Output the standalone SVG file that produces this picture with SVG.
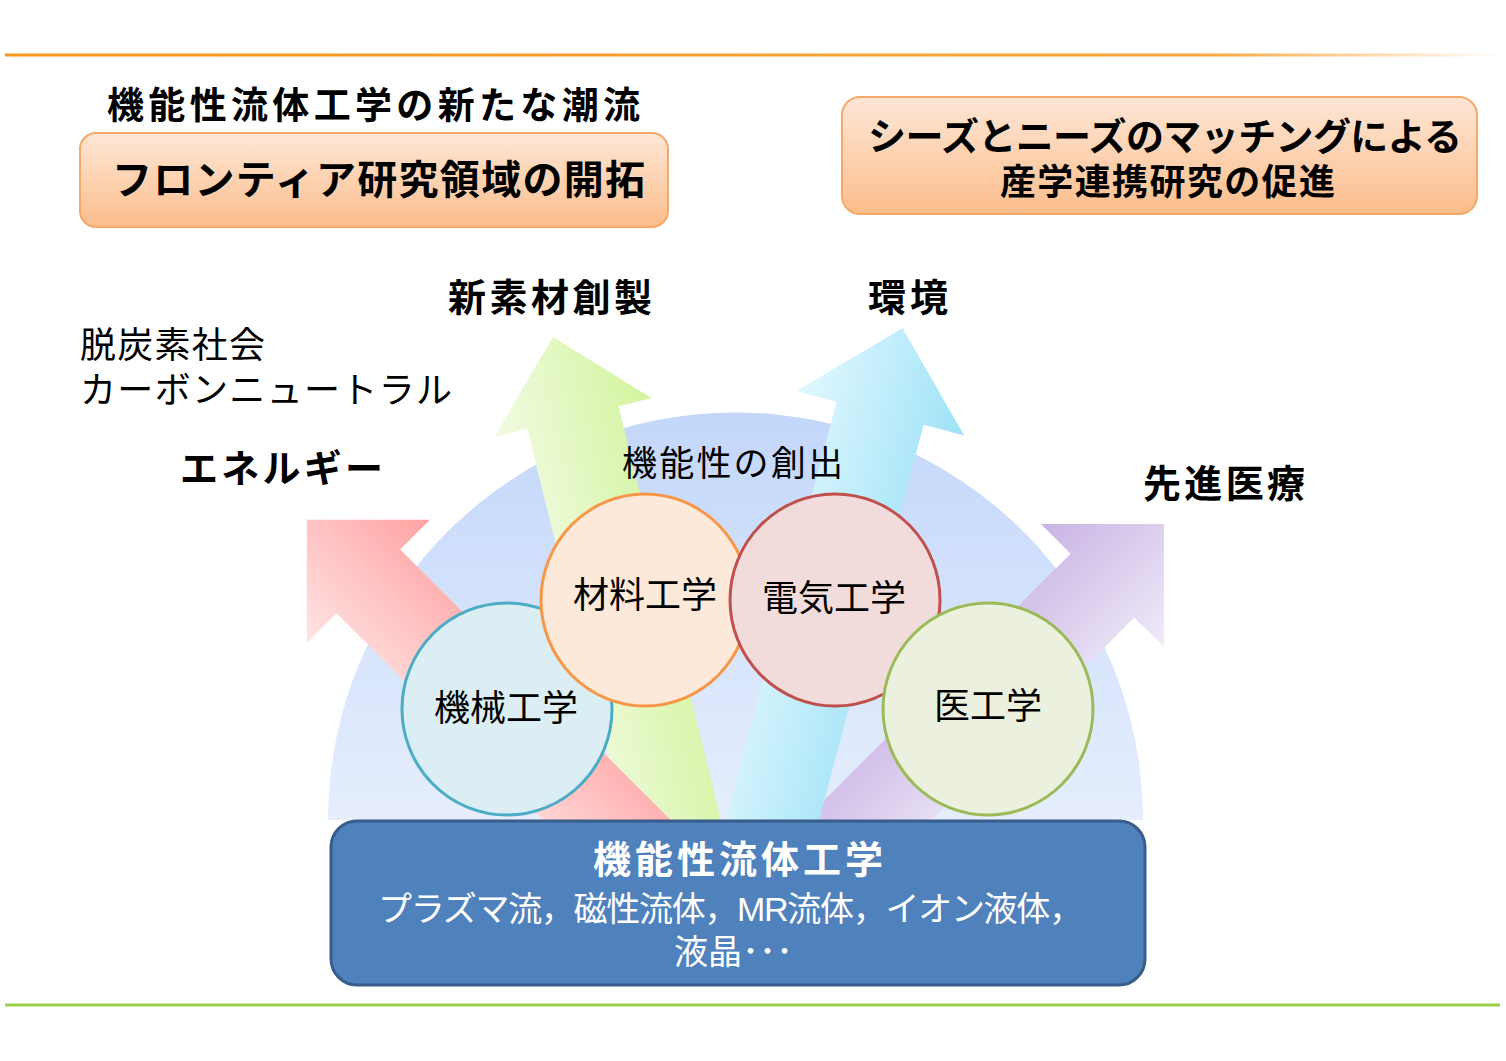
<svg xmlns="http://www.w3.org/2000/svg" width="1506" height="1061" viewBox="0 0 1506 1061">
<style>
text{font-family:"Liberation Sans","Noto Sans CJK JP","Noto Sans CJK SC",sans-serif;fill:#000}
.b{font-weight:bold}
.c{text-anchor:middle}
.w{fill:#fff}
.circ{stroke-width:3}
</style>
<defs>
<linearGradient id="topline" gradientUnits="userSpaceOnUse" x1="5" y1="0" x2="1500" y2="0">
<stop offset="0" stop-color="#f7961a"/><stop offset="0.8" stop-color="#f9a53a"/><stop offset="1" stop-color="#ffffff"/>
</linearGradient>
<linearGradient id="boxg" x1="0" y1="0" x2="0" y2="1">
<stop offset="0" stop-color="#fee7d6"/><stop offset="1" stop-color="#fbbd8c"/>
</linearGradient>
<linearGradient id="fang" x1="0" y1="0" x2="0" y2="1">
<stop offset="0" stop-color="#c3d7fa"/><stop offset="1" stop-color="#e6eefd"/>
</linearGradient>
<linearGradient id="gpink" x1="0" y1="0" x2="1" y2="0">
<stop offset="0" stop-color="#ffe4e4"/><stop offset="1" stop-color="#ffa2a2"/>
</linearGradient>
<linearGradient id="ggreen" x1="0" y1="0" x2="1" y2="0">
<stop offset="0" stop-color="#f2fbe4"/><stop offset="1" stop-color="#d3f49c"/>
</linearGradient>
<linearGradient id="gcyan" x1="0" y1="0" x2="1" y2="0">
<stop offset="0" stop-color="#e2f8fe"/><stop offset="1" stop-color="#9ee2f7"/>
</linearGradient>
<linearGradient id="gpurple" x1="0" y1="0" x2="1" y2="0">
<stop offset="0" stop-color="#c9b3e4"/><stop offset="1" stop-color="#f0ebf9"/>
</linearGradient>
</defs>
<rect width="1506" height="1061" fill="#fff"/>
<line x1="5" y1="55" x2="1500" y2="55" stroke="url(#topline)" stroke-width="3"/>
<line x1="5" y1="1005" x2="1500" y2="1005" stroke="#9bd04a" stroke-width="3"/>

<g id="title-left">
<text class="b" x="107" y="119" font-size="37" textLength="533">機能性流体工学の新たな潮流</text>
<rect x="80" y="133" width="588" height="94" rx="16" fill="url(#boxg)" stroke="#f5a868" stroke-width="2"/>
<text class="b" x="112" y="194" font-size="40" textLength="533">フロンティア研究領域の開拓</text>
</g>
<g id="title-right">
<rect x="842" y="97" width="635" height="117" rx="18" fill="url(#boxg)" stroke="#f5a868" stroke-width="2"/>
<text class="b" x="868" y="150" font-size="38" textLength="594">シーズとニーズのマッチングによる</text>
<text class="b" x="1000" y="195" font-size="36" textLength="335">産学連携研究の促進</text>
</g>

<g id="fan">
<path d="M328 820 A407 407 0 0 1 1143 820 Z" fill="url(#fang)"/>
</g>

<g id="connectors">
<path id="arrow-material" transform="translate(675 830) rotate(-13.9)" d="M-47 0 L-47 -425 L-81 -425 L0 -508 L81 -425 L47 -425 L47 0 Z" fill="url(#ggreen)"/>
<path id="arrow-medical" transform="translate(862 826) rotate(45)" d="M-45 60 L-45 -340 L-87 -340 L0 -427 L87 -340 L45 -340 L45 60 Z" fill="url(#gpurple)"/>
<path id="arrow-energy" transform="translate(613 826) rotate(-45)" d="M-45 60 L-45 -346 L-87 -346 L0 -433 L87 -346 L45 -346 L45 60 Z" fill="url(#gpink)"/>
<path id="arrow-env" transform="translate(770 830) rotate(14.8)" d="M-45 0 L-45 -431 L-87 -431 L0 -519 L87 -431 L45 -431 L45 0 Z" fill="url(#gcyan)"/>
</g>

<g id="labels">
<text class="b" x="448" y="311" font-size="38" textLength="204">新素材創製</text>
<text class="b" x="868" y="311" font-size="38" textLength="80">環境</text>
<text x="80" y="358" font-size="36" textLength="185">脱炭素社会</text>
<text x="80" y="403" font-size="36" textLength="372">カーボンニュートラル</text>
<text class="b" x="180" y="482" font-size="38" textLength="203">エネルギー</text>
<text class="b" x="1143" y="497" font-size="38" textLength="162">先進医療</text>
<text x="622" y="476" font-size="35" textLength="221">機能性の創出</text>
</g>

<g id="node-kikai">
<ellipse class="circ" cx="507" cy="709" rx="105" ry="106" fill="#dbeef3" stroke="#4bacc6"/>
<text class="c" x="506" y="721" font-size="36">機械工学</text>
</g>
<g id="node-zairyo">
<ellipse class="circ" cx="645" cy="600" rx="104" ry="106" fill="#fde9d9" stroke="#f79646"/>
<text class="c" x="645" y="608" font-size="36">材料工学</text>
</g>
<g id="node-denki">
<ellipse class="circ" cx="835" cy="600" rx="105" ry="106" fill="#f2dcdb" stroke="#c0504d"/>
<text class="c" x="834" y="611" font-size="36">電気工学</text>
</g>
<g id="node-ikou">
<ellipse class="circ" cx="988" cy="709" rx="105" ry="106" fill="#ebf1de" stroke="#9bbb59"/>
<text class="c" x="988" y="719" font-size="36">医工学</text>
</g>

<g id="node-base">
<rect x="331" y="821" width="814" height="164" rx="26" fill="#4f81bd" stroke="#385d8a" stroke-width="3"/>
<text class="b w c" x="738" y="873" font-size="38" textLength="290">機能性流体工学</text>
<text class="w" x="378" y="921" font-size="34" textLength="705">プラズマ流，磁性流体，MR流体，イオン液体，</text>
<text class="w" x="674" y="964" font-size="34">液晶･･･</text>
</g>
</svg>
